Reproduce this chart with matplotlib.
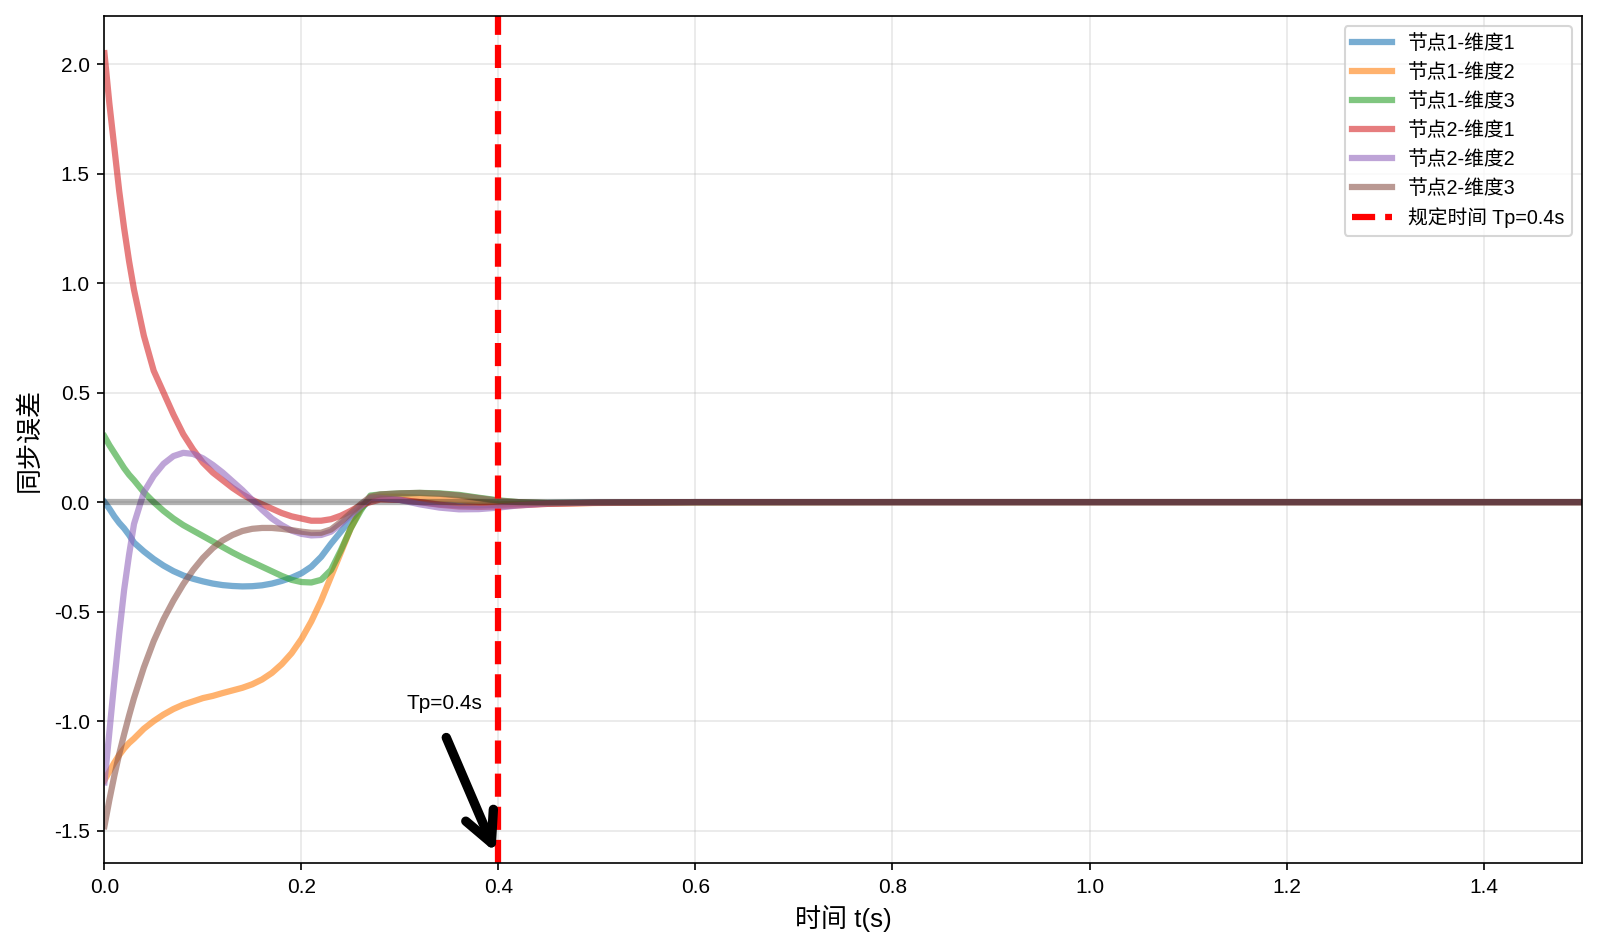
import matplotlib
matplotlib.use('Agg')
import matplotlib.pyplot as plt

plt.rcParams['font.family'] = ['Liberation Sans', 'Noto Sans CJK SC', 'DejaVu Sans']
plt.rcParams['axes.unicode_minus'] = False

# 时间采样点
t = [0, 0.005, 0.01, 0.015, 0.02, 0.025, 0.03, 0.04, 0.05, 0.06, 0.07, 0.08, 0.09,
     0.10, 0.11, 0.12, 0.13, 0.14, 0.15, 0.16, 0.17, 0.18, 0.19, 0.20, 0.21, 0.22,
     0.23, 0.24, 0.25, 0.26, 0.27, 0.28, 0.30, 0.32, 0.34, 0.36, 0.38, 0.40, 0.42,
     0.45, 0.50, 0.60, 0.80, 1.00, 1.20, 1.50]

# 同步误差
e1_1 = [0.0, -0.03, -0.065, -0.095, -0.12, -0.15, -0.185, -0.225, -0.26, -0.29, -0.315,
        -0.335, -0.35, -0.362, -0.372, -0.379, -0.383, -0.385, -0.384, -0.38, -0.372,
        -0.36, -0.345, -0.325, -0.295, -0.25, -0.19, -0.135, -0.08, -0.03,
        0.01, 0.015, 0.01, 0.0, -0.01, -0.015, -0.015, -0.012, -0.008, -0.004, -0.002,
        0.0, 0.0, 0.0, 0.0, 0.0]
e1_2 = [-1.27, -1.23, -1.19, -1.155, -1.125, -1.10, -1.08, -1.035, -1.0, -0.97, -0.945,
        -0.925, -0.91, -0.895, -0.885, -0.872, -0.86, -0.848, -0.832, -0.81, -0.78,
        -0.74, -0.69, -0.625, -0.545, -0.45, -0.34, -0.23, -0.12, -0.03,
        0.02, 0.025, 0.025, 0.02, 0.015, 0.01, 0.0, -0.01, -0.01, -0.008, -0.004,
        -0.001, 0.0, 0.0, 0.0, 0.0]
e1_3 = [0.30, 0.26, 0.225, 0.19, 0.155, 0.125, 0.10, 0.045, 0.0, -0.04, -0.075,
        -0.105, -0.13, -0.155, -0.18, -0.205, -0.23, -0.253, -0.274, -0.295, -0.316,
        -0.337, -0.355, -0.365, -0.367, -0.355, -0.31, -0.22, -0.12, -0.04,
        0.03, 0.035, 0.04, 0.042, 0.04, 0.033, 0.02, 0.008, 0.0, -0.004, -0.003,
        -0.001, 0.0, 0.0, 0.0, 0.0]
e2_1 = [2.05, 1.82, 1.62, 1.42, 1.25, 1.10, 0.97, 0.76, 0.60, 0.50, 0.40,
        0.31, 0.24, 0.18, 0.135, 0.10, 0.065, 0.035, 0.01, -0.01, -0.03,
        -0.05, -0.065, -0.075, -0.085, -0.085, -0.078, -0.062, -0.04, -0.015,
        0.0, 0.012, 0.01, 0.0, -0.012, -0.02, -0.022, -0.02, -0.015, -0.008, -0.003,
        0.0, 0.0, 0.0, 0.0, 0.0]
e2_2 = [-1.28, -1.05, -0.82, -0.60, -0.40, -0.24, -0.10, 0.045, 0.12, 0.175, 0.21,
        0.225, 0.22, 0.20, 0.17, 0.135, 0.095, 0.055, 0.01, -0.035, -0.075,
        -0.105, -0.13, -0.145, -0.152, -0.15, -0.135, -0.10, -0.06, -0.02,
        0.02, 0.02, 0.01, -0.01, -0.025, -0.033, -0.032, -0.025, -0.015, -0.006, -0.002,
        0.0, 0.0, 0.0, 0.0, 0.0]
e2_3 = [-1.48, -1.36, -1.25, -1.15, -1.06, -0.975, -0.895, -0.755, -0.635, -0.535, -0.45,
        -0.375, -0.31, -0.255, -0.21, -0.175, -0.15, -0.132, -0.122, -0.118, -0.118,
        -0.122, -0.128, -0.135, -0.14, -0.14, -0.125, -0.09, -0.05, -0.01,
        0.025, 0.035, 0.04, 0.042, 0.038, 0.03, 0.018, 0.006, 0.0, -0.004, -0.002,
        0.0, 0.0, 0.0, 0.0, 0.0]

series = [e1_1, e1_2, e1_3, e2_1, e2_2, e2_3]
labels = ['节点1-维度1', '节点1-维度2', '节点1-维度3',
          '节点2-维度1', '节点2-维度2', '节点2-维度3']
Tp = 0.4

fig = plt.figure(figsize=(10.647, 6.347), dpi=150)
ax = fig.add_axes([0.0654, 0.0935, 0.9252, 0.8892])

for y, lab in zip(series, labels):
    ax.plot(t, y, lw=3, alpha=0.6, label=lab)

ax.axhline(0, color='k', lw=3, alpha=0.3)
ax.axvline(Tp, color='red', ls='--', lw=3, label='规定时间 Tp=0.4s')

ax.text(0.307, -0.945, 'Tp=0.4s', fontsize=10)
ax.annotate('', xy=(0.397, -1.6), xytext=(0.347, -1.075),
            arrowprops=dict(arrowstyle='->', lw=4.5, color='black',
                            mutation_scale=36, shrinkA=0, shrinkB=0,
                            capstyle='round', joinstyle='round'))

ax.set_xlim(0, 1.5)
ax.set_ylim(-1.648, 2.218)
ax.grid(True, alpha=0.3)
ax.set_xlabel('时间 t(s)', fontsize=12.5)
ax.set_ylabel('同步误差', fontsize=12.5, labelpad=6)
ax.tick_params(labelsize=10)
ax.legend(loc='upper right', fontsize=9.5)

fig.savefig('out.png', dpi=150)
